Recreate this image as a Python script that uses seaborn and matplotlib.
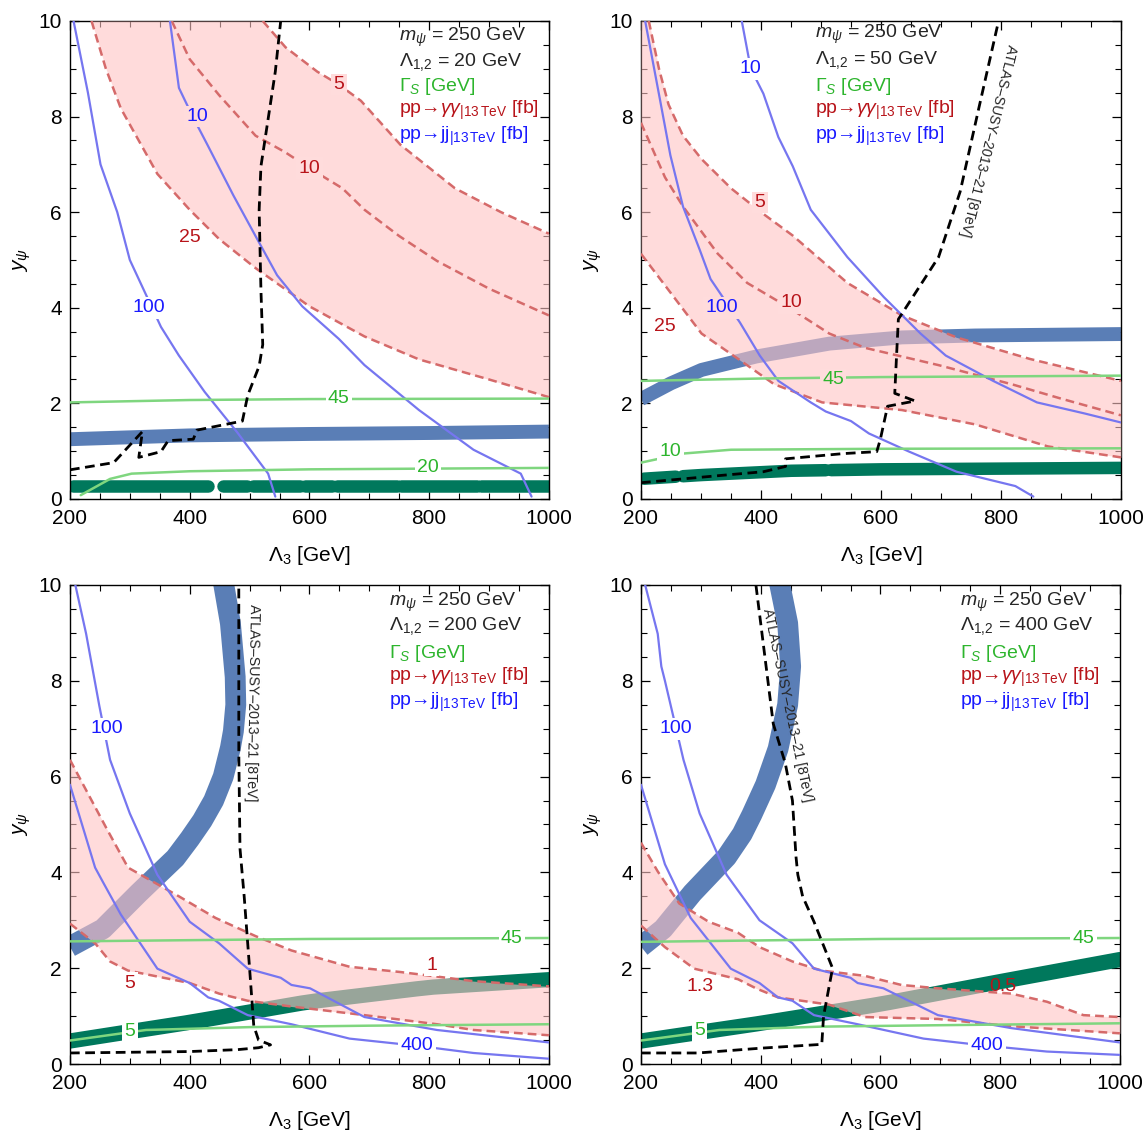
import numpy as np
import pandas as pd
import matplotlib
matplotlib.use("Agg")
import matplotlib.pyplot as plt
from matplotlib.ticker import MultipleLocator
import seaborn as sns

# ---- panel 1 : Lambda_12 = 20 GeV ----
p1_jj100 = [(206, 10), (230, 8.5), (251, 7.0), (279, 6.0), (300, 5.0), (352, 3.6), (382, 3.0),
            (425, 2.24), (479, 1.4), (531, 0.53), (543, 0.05)]
p1_jj10 = [(367, 10), (382, 8.6), (405, 8.0), (430, 7.4), (473, 6.35), (510, 5.5), (546, 4.68),
           (588, 4.03), (649, 3.35), (692, 2.8), (783, 1.86), (874, 1.03), (953, 0.53), (971, 0.05)]
p1_aa5 = [(522, 10), (560, 9.45), (613, 8.94), (649, 8.67), (686, 8.33), (752, 7.41), (843, 6.5),
          (920, 6.0), (1000, 5.55)]
p1_aa10 = [(370, 10), (400, 9.2), (449, 8.45), (510, 7.6), (560, 7.25), (600, 6.92), (655, 6.5),
           (692, 6.05), (750, 5.5), (813, 4.98), (900, 4.4), (1000, 3.84)]
p1_aa25 = [(236, 10), (260, 9.0), (285, 8.17), (346, 6.8), (400, 6.05), (449, 5.44), (510, 4.83),
           (600, 4.03), (692, 3.4), (783, 2.92), (900, 2.5), (1000, 2.13)]
p1_g45 = [(200, 2.02), (400, 2.07), (600, 2.09), (1000, 2.1)]
p1_g20 = [(218, 0.08), (267, 0.42), (303, 0.53), (400, 0.58), (600, 0.62), (1000, 0.65)]
p1_band = [(200, 1.25), (400, 1.33), (600, 1.36), (800, 1.38), (1000, 1.41)]
p1_teal = [(200, 0.27), (1000, 0.27)]
p1_teal_pieces = [(205, 430), (455, 495), (505, 585), (592, 637), (646, 746), (753, 880), (887, 1000)]
p1_atlas = [(200, 0.61), (273, 0.76), (321, 1.41), (315, 0.87), (352, 0.99), (364, 1.22), (406, 1.25),
            (412, 1.44), (488, 1.63), (497, 2.17), (516, 2.78), (522, 3.23), (519, 4.37), (516, 6.05),
            (519, 6.96), (531, 7.95), (543, 8.94), (552, 10)]
p1_labels = [(332, 4.0, "100", "jj", "w"), (412, 8.0, "10", "jj", "p"), (649, 8.67, "5", "aa", "p"),
             (600, 6.92, "10", "aa", "p"), (400, 5.47, "25", "aa", "w"), (649, 2.1, "45", "g", "w"),
             (798, 0.65, "20", "g", "w")]

# ---- panel 2 : Lambda_12 = 50 GeV ----
p2_jj100 = [(207, 10), (231, 8.4), (249, 7.19), (270, 6.12), (298, 5.21), (316, 4.6), (365, 3.69),
            (398, 3.0), (429, 2.47), (483, 2.02), (508, 1.83), (550, 1.63), (580, 1.37), (647, 0.99),
            (726, 0.57), (824, 0.27), (854, 0.05)]
p2_jj10 = [(368, 10), (383, 9.0), (404, 8.48), (429, 7.57), (453, 6.96), (483, 6.05), (544, 5.06),
           (605, 4.22), (666, 3.46), (708, 3.0), (787, 2.47), (860, 2.02), (939, 1.79), (1000, 1.6)]
p2_aa5 = [(213, 10), (230, 9.0), (246, 8.25), (270, 7.6), (301, 7.11), (350, 6.5), (400, 6.0),
          (453, 5.51), (544, 4.52), (635, 3.84), (726, 3.38), (848, 2.93), (1000, 2.47)]
p2_aa10 = [(200, 7.87), (240, 6.73), (270, 6.12), (328, 5.13), (377, 4.52), (447, 4.0), (514, 3.46),
           (574, 3.16), (635, 2.98), (696, 2.8), (818, 2.4), (900, 2.1), (1000, 1.75)]
p2_aa25 = [(200, 5.13), (246, 4.37), (301, 3.46), (362, 2.93), (422, 2.4), (502, 2.02), (635, 1.86),
           (757, 1.56), (878, 1.1), (1000, 0.87)]
p2_g45 = [(200, 2.47), (400, 2.52), (600, 2.55), (1000, 2.58)]
p2_g10 = [(200, 0.76), (270, 0.95), (350, 1.03), (600, 1.05), (1000, 1.06)]
p2_band = [(200, 2.09), (250, 2.42), (301, 2.7), (392, 2.98), (514, 3.25), (635, 3.38), (757, 3.42),
           (1000, 3.45)]
p2_teal = [(200, 0.42), (300, 0.5), (450, 0.59), (600, 0.62), (1000, 0.65)]
p2_teal_pieces = [(205, 258), (270, 508), (517, 1000)]
p2_atlas = [(200, 0.34), (331, 0.49), (404, 0.57), (441, 0.68), (441, 0.84), (538, 0.95), (593, 0.99),
            (599, 1.25), (611, 1.94), (657, 2.05), (623, 2.21), (626, 3.0), (629, 3.76), (696, 5.06),
            (732, 6.43), (763, 8.17), (796, 10)]
p2_labels = [(383, 9.0, "10", "jj", "w"), (334, 4.0, "100", "jj", "p"), (398, 6.2, "5", "aa", "p"),
             (450, 4.1, "10", "aa", "p"), (240, 3.6, "25", "aa", "w"), (520, 2.5, "45", "g", "p"),
             (249, 0.99, "10", "g", "w")]

# ---- panel 3 : Lambda_12 = 200 GeV ----
p3_jj100 = [(209, 10), (227, 8.98), (249, 7.48), (267, 6.35), (300, 5.23), (346, 3.95), (400, 2.97),
            (449, 2.52), (497, 1.99), (552, 1.8), (570, 1.65), (601, 1.58), (692, 0.98), (813, 0.71),
            (1000, 0.45)]
p3_jj400 = [(200, 5.83), (242, 4.1), (255, 3.8), (285, 3.12), (346, 1.99), (400, 1.69), (431, 1.39),
            (449, 1.32), (497, 1.02), (570, 0.83), (667, 0.53), (780, 0.38), (874, 0.23), (1000, 0.11)]
p3_aa1 = [(200, 6.35), (261, 4.92), (297, 4.1), (382, 3.5), (443, 3.05), (510, 2.67), (570, 2.37),
          (667, 2.03), (752, 1.92), (874, 1.73), (1000, 1.62)]
p3_aa5 = [(200, 2.93), (242, 2.52), (267, 2.14), (297, 1.95), (400, 1.69), (449, 1.47), (497, 1.32),
          (570, 1.2), (692, 1.02), (813, 0.83), (874, 0.71), (1000, 0.6)]
p3_g45 = [(200, 2.56), (600, 2.61), (1000, 2.63)]
p3_g5 = [(200, 0.49), (327, 0.71), (500, 0.77), (700, 0.8), (1000, 0.83)]
p3_band = [(200, 2.45), (255, 2.82), (315, 3.57), (376, 4.3), (400, 4.7), (421, 5.08), (440, 5.5),
           (456, 6.0), (468, 6.6), (473, 6.95), (477, 7.5), (476, 8.08), (468, 9.2), (457, 10.0),
           (450, 10.4)]
p3_teal = [(200, 0.48), (400, 0.87), (600, 1.3), (800, 1.6), (1000, 1.76)]
p3_atlas = [(200, 0.23), (400, 0.26), (480, 0.3), (515, 0.34), (535, 0.4), (515, 0.5), (507, 0.8),
            (500, 2.0), (491, 3.5), (484, 4.5), (482, 6.5), (482, 10)]
p3_labels = [(261, 7.0, "100", "jj", "w"), (780, 0.38, "400", "jj", "w"), (804, 2.06, "1", "aa", "w"),
             (300, 1.69, "5", "aa", "w"), (938, 2.63, "45", "g", "w"), (300, 0.68, "5", "g", "w")]

# ---- panel 4 : Lambda_12 = 400 GeV ----
p4_jj100 = [(207, 10), (228, 8.98), (234, 8.3), (240, 8.0), (271, 6.35), (298, 5.23), (343, 3.95),
            (398, 3.0), (453, 2.52), (489, 1.99), (550, 1.8), (562, 1.69), (605, 1.58), (696, 1.02),
            (818, 0.75), (1000, 0.45)]
p4_jj400 = [(200, 5.83), (240, 4.17), (283, 3.05), (350, 1.99), (398, 1.69), (429, 1.39), (453, 1.32),
            (489, 1.02), (562, 0.83), (672, 0.53), (778, 0.38), (878, 0.26), (1000, 0.19)]
p4_aa05 = [(200, 4.62), (228, 4.02), (264, 3.35), (313, 2.97), (362, 2.74), (398, 2.44), (453, 2.14),
           (502, 1.95), (574, 1.84), (635, 1.65), (696, 1.58), (818, 1.47), (878, 1.3), (939, 1.02),
           (1000, 0.98)]
p4_aa13 = [(200, 2.89), (240, 2.44), (289, 1.99), (362, 1.77), (392, 1.58), (429, 1.39), (514, 1.24),
           (574, 0.98), (696, 0.94), (818, 0.79), (1000, 0.64)]
p4_g45 = [(200, 2.55), (600, 2.61), (1000, 2.63)]
p4_g5 = [(200, 0.49), (331, 0.71), (500, 0.78), (700, 0.81), (1000, 0.85)]
p4_band = [(200, 2.45), (237, 2.82), (286, 3.57), (343, 4.32), (369, 4.8), (385, 5.2), (408, 5.83),
           (429, 6.58), (445, 7.5), (450, 8.3), (445, 9.2), (432, 10.0), (425, 10.4)]
p4_teal = [(200, 0.48), (400, 0.85), (600, 1.25), (800, 1.72), (1000, 2.18)]
p4_atlas = [(200, 0.23), (295, 0.23), (400, 0.33), (502, 0.41), (505, 1.0), (520, 2.0), (489, 2.97),
            (470, 3.5), (462, 3.95), (459, 4.32), (453, 5.5), (441, 6.28), (421, 7.1), (392, 10)]
p4_labels = [(258, 7.0, "100", "jj", "w"), (778, 0.38, "400", "jj", "w"), (805, 1.62, "0.5", "aa", None),
             (298, 1.62, "1.3", "aa", "w"), (939, 2.63, "45", "g", "w"), (298, 0.69, "5", "g", "w")]

lambda12 = ["20", "50", "200", "400"]
atlas_text = "ATLAS\u2013SUSY\u20132013\u201321 [8TeV]"

# colours
JJ_LINE, JJ_TEXT = "#7676f0", "#1a1aff"
AA_LINE, AA_TEXT = "#d56a6a", "#b8141a"
G_LINE, G_TEXT = "#7fd67f", "#2db52d"
BAND, TEAL, PINK = "#5a7eb6", "#00785c", "#ffc4c4"
BG = {"w": "white", "p": "#ffdcdc"}
TXT = {"jj": JJ_TEXT, "aa": AA_TEXT, "g": G_TEXT}

sns.set_theme(style="ticks")
plt.rcParams['font.family'] = ['Liberation Sans', 'DejaVu Sans']
plt.rcParams['mathtext.fontset'] = 'custom'
plt.rcParams['mathtext.rm'] = 'Liberation Sans'
plt.rcParams['mathtext.it'] = 'Liberation Sans:italic'
plt.rcParams['mathtext.bf'] = 'Liberation Sans:bold'


def line(ax, pts, **kw):
    d = pd.DataFrame(pts, columns=["x", "y"])
    sns.lineplot(data=d, x="x", y="y", sort=False, estimator=None, ax=ax, **kw)


def pink_band(ax, upper, lower):
    xx = np.linspace(200, 1000, 801)
    ux, uy = zip(*upper)
    lx, ly = zip(*lower)
    ax.fill_between(xx, np.interp(xx, lx, ly), np.interp(xx, ux, uy), color=PINK, alpha=0.6,
                    lw=0, zorder=3)


def teal_band(ax, pts, pieces, lw):
    bx, by = zip(*pts)
    for a, b in pieces:
        xs = np.linspace(a, b, 30)
        line(ax, list(zip(xs, np.interp(xs, bx, by))), color=TEAL, lw=lw, zorder=2,
             solid_capstyle="round")


fig = plt.figure(figsize=(11.45, 11.33), dpi=100)
boxes = [[0.0611, 0.5596, 0.4183, 0.4219], [0.5598, 0.5596, 0.4192, 0.4219],
         [0.0611, 0.0609, 0.4183, 0.4228], [0.5598, 0.0609, 0.4183, 0.4228]]
legend_x = [0.686, 0.362, 0.666, 0.666]
legend_y = [[0.966, 0.913, 0.862, 0.812, 0.759], [0.971, 0.919, 0.862, 0.812, 0.759],
            [0.964, 0.915, 0.857, 0.808, 0.754], [0.964, 0.915, 0.857, 0.808, 0.754]]

panels = [
    dict(jj=[p1_jj100, p1_jj10], aa=[p1_aa5, p1_aa10, p1_aa25], fill=(p1_aa5, p1_aa25),
         g=[p1_g45, p1_g20], band=p1_band, teal=p1_teal, pieces=p1_teal_pieces, atlas=p1_atlas,
         labels=p1_labels, atl=None),
    dict(jj=[p2_jj100, p2_jj10], aa=[p2_aa5, p2_aa10, p2_aa25], fill=(p2_aa5, p2_aa25),
         g=[p2_g45, p2_g10], band=p2_band, teal=p2_teal, pieces=p2_teal_pieces, atlas=p2_atlas,
         labels=p2_labels, atl=(778, 7.5, -104)),
    dict(jj=[p3_jj100, p3_jj400], aa=[p3_aa1, p3_aa5], fill=(p3_aa1, p3_aa5),
         g=[p3_g45, p3_g5], band=p3_band, teal=p3_teal, pieces=[(200, 1000)], atlas=p3_atlas,
         labels=p3_labels, atl=(505, 7.55, -91)),
    dict(jj=[p4_jj100, p4_jj400], aa=[p4_aa05, p4_aa13], fill=(p4_aa05, p4_aa13),
         g=[p4_g45, p4_g5], band=p4_band, teal=p4_teal, pieces=[(200, 1000)], atlas=p4_atlas,
         labels=p4_labels, atl=(444, 7.5, -78)),
]

for i, p in enumerate(panels):
    ax = fig.add_axes(boxes[i])
    # fitted bands
    band_lw = 10 if i < 2 else 15
    line(ax, p["band"], color=BAND, lw=band_lw, zorder=2, solid_capstyle="butt")
    teal_band(ax, p["teal"], p["pieces"], 9 if i < 2 else 11)
    # diphoton cross-section region
    pink_band(ax, *p["fill"])
    for c in p["aa"]:
        line(ax, c, color=AA_LINE, lw=1.8, linestyle=(0, (3.5, 2)), zorder=4)
    for c in p["jj"]:
        line(ax, c, color=JJ_LINE, lw=1.6, zorder=4)
    for c in p["g"]:
        line(ax, c, color=G_LINE, lw=1.8, zorder=4)
    line(ax, p["atlas"], color="black", lw=2.0, linestyle=(0, (3.5, 2)), zorder=5)

    for x, y, s, kind, bg in p["labels"]:
        kw = {}
        if bg:
            kw["bbox"] = dict(boxstyle="square,pad=0.12", fc=BG[bg], ec="none")
        ax.text(x, y, s, color=TXT[kind], fontsize=14, ha="center", va="center", zorder=6, **kw)

    if p["atl"]:
        ax_x, ax_y, rot = p["atl"]
        ax.text(ax_x, ax_y, atlas_text, fontsize=10.2, rotation=rot, rotation_mode="anchor",
                ha="center", va="center", zorder=6)

    lx, ly = legend_x[i], legend_y[i]
    ax.text(lx, ly[0], r"$m_\psi$ = 250 GeV", transform=ax.transAxes, fontsize=14, va="center")
    ax.text(lx, ly[1], r"$\Lambda_{1{,}2}$ = " + lambda12[i] + " GeV", transform=ax.transAxes,
            fontsize=14, va="center")
    ax.text(lx, ly[2], r"$\Gamma_S$ [GeV]", transform=ax.transAxes, fontsize=14, va="center",
            color=G_TEXT)
    ax.text(lx, ly[3], "pp\u2192" + r"$\gamma\gamma_{|13\,\mathrm{TeV}}$ [fb]", transform=ax.transAxes,
            fontsize=14, va="center", color=AA_TEXT)
    ax.text(lx, ly[4], "pp\u2192jj" + r"$_{|13\,\mathrm{TeV}}$ [fb]", transform=ax.transAxes,
            fontsize=14, va="center", color=JJ_TEXT)

    ax.set_xlim(200, 1000)
    ax.set_ylim(0, 10)
    ax.set_xticks([200, 400, 600, 800, 1000])
    ax.set_yticks([0, 2, 4, 6, 8, 10])
    ax.xaxis.set_minor_locator(MultipleLocator(50))
    ax.yaxis.set_minor_locator(MultipleLocator(0.5))
    ax.tick_params(which="both", direction="in", top=True, right=True, labelsize=15, color="black",
                   labelcolor="black")
    ax.tick_params(which="major", length=6.5, width=0.9)
    ax.tick_params(which="minor", length=4, width=0.8)
    ax.tick_params(axis="x", which="major", pad=7)
    ax.tick_params(axis="y", which="major", pad=6)
    for sp in ax.spines.values():
        sp.set_color("black")
        sp.set_linewidth(1.0)
    ax.set_xlabel(r"$\Lambda_3$ [GeV]", fontsize=15, color="black", labelpad=12)
    ax.set_ylabel(r"$y_\psi$", fontsize=15, color="black", labelpad=4)

fig.savefig("out.png", dpi=100)
